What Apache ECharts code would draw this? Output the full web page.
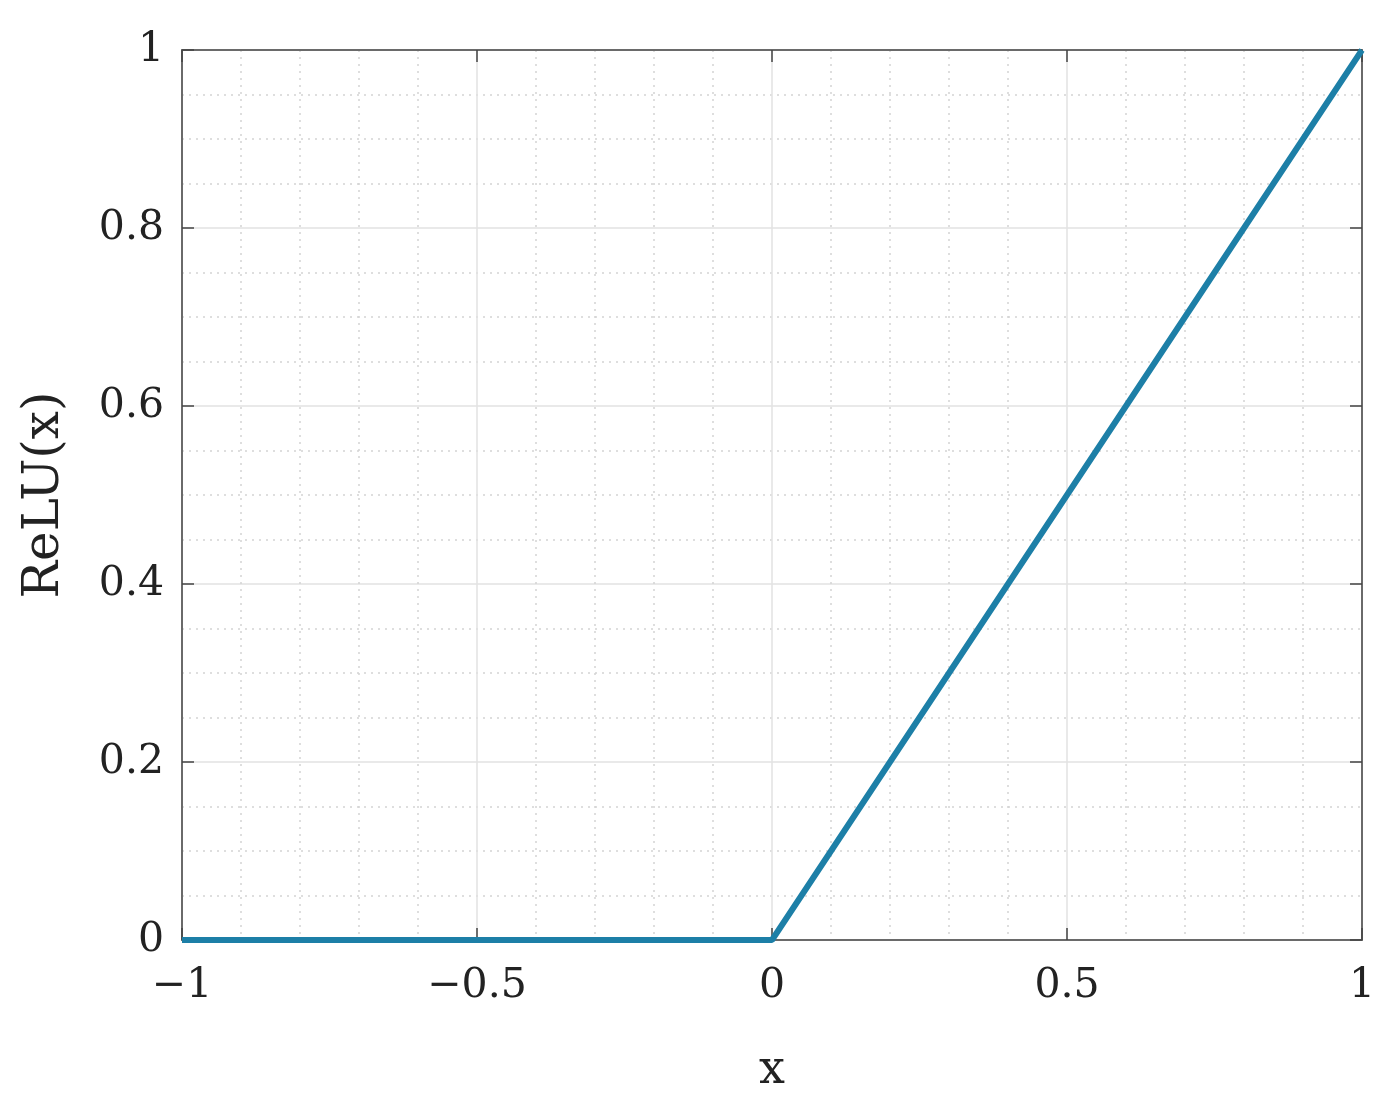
<!DOCTYPE html>
<html>
<head>
<meta charset="utf-8">
<script src="https://cdn.jsdelivr.net/npm/echarts@6/dist/echarts.min.js"></script>
<style>
  html, body { margin: 0; padding: 0; background: #fff; }
  #myChart { width: 1392px; height: 1111px; }
</style>
</head>
<body>
<div id="myChart"></div>
<script>
// data
const xValues = [-1, -0.5, 0, 0.5, 1];
const reluValues = [0, 0, 0, 0.5, 1];
const xTicks = [-1, -0.5, 0, 0.5, 1];
const yTicks = [0, 0.2, 0.4, 0.6, 0.8, 1];

const fontFamily = "'DejaVu Serif', 'Liberation Serif', serif";
const lineColor = '#1d7fa7';

// 负号用真正的减号
function fmt(v) {
  return String(v).replace('-', '\u2212');
}

const myChart = echarts.init(document.getElementById('myChart'));

const baseAxis = {
  axisLine: { show: true, onZero: false, lineStyle: { color: '#6a6a6a', width: 2 } },
  axisTick: { show: true, inside: true, length: 12, lineStyle: { color: '#444', width: 1.5 } },
  minorTick: { show: false },
};

const option = {
  backgroundColor: '#fff',
  animation: false,
  grid: { left: 182, right: 30, top: 50, bottom: 171, containLabel: false },
  xAxis: [
    Object.assign({}, baseAxis, {
      type: 'value',
      min: xTicks[0], max: xTicks[xTicks.length - 1], interval: 0.5,
      name: 'x',
      nameLocation: 'middle',
      nameGap: 108,
      nameTextStyle: { fontFamily: fontFamily, fontSize: 46, color: '#222' },
      axisLabel: {
        margin: 26, fontFamily: fontFamily, fontSize: 41, color: '#222',
        formatter: fmt,
      },
      splitLine: { show: true, lineStyle: { color: '#e2e2e2', width: 1.5 } },
      minorTick: { show: false, splitNumber: 5 },
      minorSplitLine: { show: true, lineStyle: { color: '#d4d4d4', width: 1.5, type: [2, 5] } },
    }),
    Object.assign({}, baseAxis, {
      type: 'value', position: 'top',
      min: xTicks[0], max: xTicks[xTicks.length - 1], interval: 0.5,
      axisLabel: { show: false },
      splitLine: { show: false },
    }),
  ],
  yAxis: [
    Object.assign({}, baseAxis, {
      type: 'value',
      min: yTicks[0], max: yTicks[yTicks.length - 1], interval: 0.2,
      name: 'ReLU(x)',
      nameLocation: 'middle',
      nameGap: 112,
      nameTextStyle: { fontFamily: fontFamily, fontSize: 50, color: '#222' },
      axisLabel: {
        margin: 18, fontFamily: fontFamily, fontSize: 41, color: '#222',
        formatter: fmt,
      },
      splitLine: { show: true, lineStyle: { color: '#e2e2e2', width: 1.5 } },
      minorTick: { show: false, splitNumber: 4 },
      minorSplitLine: { show: true, lineStyle: { color: '#d4d4d4', width: 1.5, type: [2, 5] } },
    }),
    Object.assign({}, baseAxis, {
      type: 'value', position: 'right',
      min: yTicks[0], max: yTicks[yTicks.length - 1], interval: 0.2,
      axisLabel: { show: false },
      splitLine: { show: false },
    }),
  ],
  series: [
    {
      name: 'ReLU',
      type: 'line',
      data: xValues.map((x, i) => [x, reluValues[i]]),
      showSymbol: false,
      clip: false,
      lineStyle: { color: lineColor, width: 6 },
      z: 5,
    },
  ],
};

myChart.setOption(option);
window.addEventListener('resize', function () {
  myChart.resize();
});
</script>
</body>
</html>
